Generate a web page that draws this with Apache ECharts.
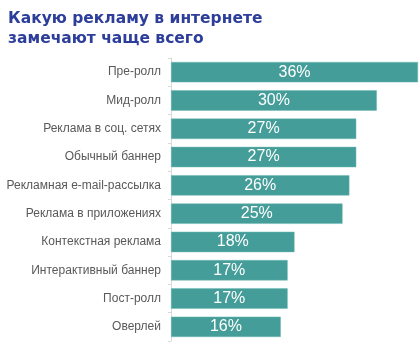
<!DOCTYPE html>
<html><head><meta charset="utf-8">
<script src="https://cdn.jsdelivr.net/npm/echarts@6/dist/echarts.min.js"></script>
<style>html,body{margin:0;padding:0;background:#fff}#c{width:419px;height:348px}</style>
</head><body><div id="c"></div>
<script>
const categories = ["Пре-ролл","Мид-ролл","Реклама в соц. сетях","Обычный баннер","Рекламная e-mail-рассылка","Реклама в приложениях","Контекстная реклама","Интерактивный баннер","Пост-ролл","Оверлей"];
const values = [36,30,27,27,26,25,18,17,17,16];
const titleLines = ["Какую рекламу в интернете","замечают чаще всего"];

const chart = echarts.init(document.getElementById('c'), null, {renderer:'canvas'});
chart.setOption({
  animation:false,
  title:{text:titleLines.join('\n'), left:3, top:4,
    textStyle:{fontFamily:'DejaVu Sans', fontWeight:'bold', fontSize:15.5, color:'#2c3e9a', lineHeight:20}},
  grid:{left:171, right:1, top:58, bottom:7, containLabel:false},
  xAxis:{type:'value', min:0, max:36, show:false},
  yAxis:{type:'category', data:categories, inverse:true,
    axisLine:{show:true, lineStyle:{color:'#d9d9d9'}},
    axisTick:{show:true, length:3, lineStyle:{color:'#d9d9d9'}},
    axisLabel:{fontFamily:'Liberation Sans', fontSize:12, color:'#595959', margin:10}},
  series:[{type:'bar', data:values, barCategoryGap:'28%',
    itemStyle:{color:'#449d98', borderColor:'#6fb8b3', borderWidth:0.5},
    label:{show:true, position:'inside', formatter:'{c}%', color:'#fff', fontFamily:'Liberation Sans', fontSize:16}}]
});
</script></body></html>
